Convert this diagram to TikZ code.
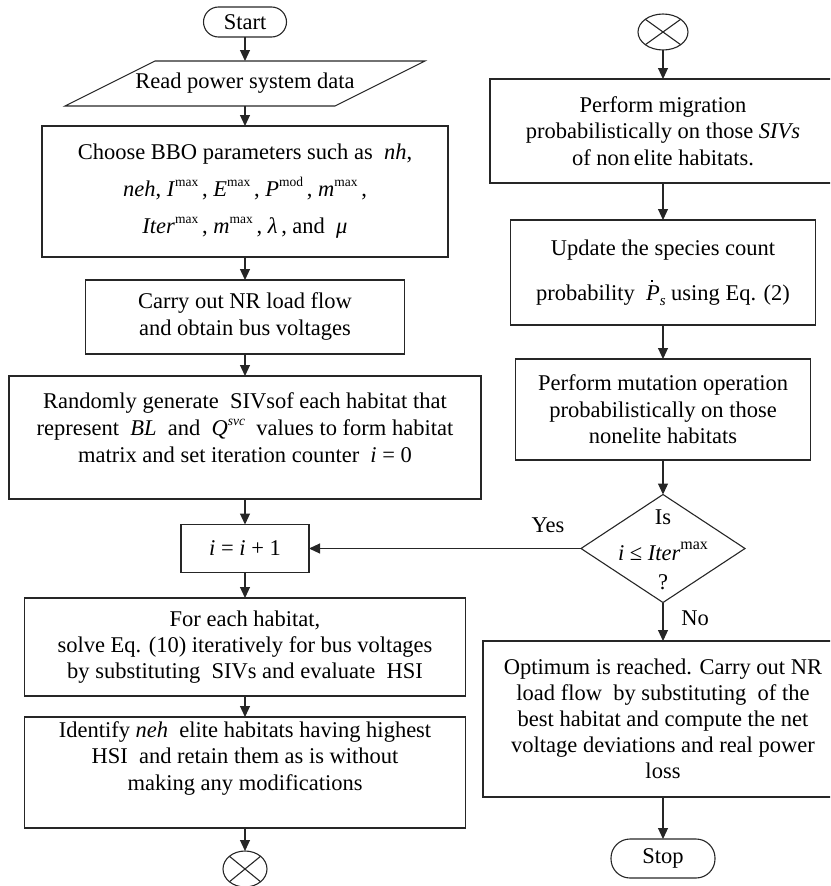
\documentclass[tikz,border=0pt]{standalone}
\usepackage{fontspec}
\setmainfont{Liberation Serif}
\usetikzlibrary{shapes.geometric,arrows.meta,calc}
\newcommand\hi[1]{\raisebox{10pt}{\fontsize{13.5}{13.5}\selectfont #1}}
\newcommand\hibig[1]{\raisebox{11pt}{\fontsize{16}{16}\selectfont #1}}
\newcommand\lo[1]{\raisebox{-5pt}{\fontsize{15}{15}\selectfont #1}}
\newcommand\Pdot{\textit{P}\llap{\raisebox{0.82em}{\rule{2pt}{2pt}}\hspace{0.3em}}}
\begin{document}
\begin{tikzpicture}[x=1pt,y=-1pt,
  every node/.style={font=\fontsize{22.5}{27}\selectfont, inner sep=0pt, outer sep=0pt, align=center},
  box/.style={draw=black!85, line width=1.1pt, rectangle},
  term/.style={draw=black!85, line width=1.1pt, rounded corners=15pt},
  conn/.style={draw=black!85, ellipse, line width=1.1pt, minimum width=44pt, minimum height=36pt},
  arr/.style={draw=black!85, -{Triangle[width=10pt,length=11pt]}, line width=1.1pt},
  plain/.style={draw=black!85, line width=1.1pt}]
\useasboundingbox (0,0) rectangle (830,886);
\clip (0,0) rectangle (830,886);

% left column
\node[term, minimum width=83pt, minimum height=30pt] (start) at (245,22) {Start};
\node[minimum width=270pt, minimum height=45pt] (read) at (245,83.5) {Read power system data};
\draw[plain] ($(read.south west)+(-45,0)$) -- ($(read.north west)+(45,0)$) -- ($(read.north east)+(45,0)$) -- ($(read.south east)+(-45,0)$) -- cycle;
\node[box, minimum width=406pt, minimum height=131pt, font=\fontsize{22.5}{37}\selectfont] (bbo) at (245,191.5)
  {Choose BBO parameters such as \ \textit{nh},\\ \textit{neh}, \textit{I}\hi{max}\,, \textit{E}\hi{max}\,, \textit{P}\hi{mod}\,, \textit{m}\hi{max}\,,\\ \textit{Iter}\hi{max}\,, \textit{m}\hi{max}\,, \textit{λ}\,, and \ \textit{μ}};
\node[box, minimum width=319pt, minimum height=74pt] (nr) at (245,317) {Carry out NR load flow\\ and obtain bus voltages};
\node[box, minimum width=472pt, minimum height=123pt, text depth=20pt] (rand) at (245,437.5)
  {Randomly generate \ SIVsof each habitat that\\ represent \ \textit{BL} \ and \ \textit{Q}\hi{\textit{svc}} \ values to form habitat\\ matrix and set iteration counter \ \textit{i} = 0};
\node[box, minimum width=128pt, minimum height=48pt] (inc) at (245,548.5) {\textit{i} = \textit{i} + 1};
\node[box, minimum width=441pt, minimum height=98pt, font=\fontsize{22.5}{26}\selectfont] (each) at (245,647)
  {For each habitat,\\ solve Eq. (10) iteratively for bus voltages\\ by substituting \ SIVs and evaluate \ HSI};
\node[box, minimum width=441pt, minimum height=111pt, text depth=33pt, font=\fontsize{22.5}{26.5}\selectfont] (ident) at (245,772.5)
  {Identify \textit{neh} \ elite habitats having highest\\ HSI \ and retain them as is without\\ making any modifications};
\node[conn] (c1) at (245,869) {};
\draw[plain] (c1.north west) -- (c1.south east) (c1.north east) -- (c1.south west);

% right column
\node[conn, minimum width=50pt] (c2) at (663,32) {};
\draw[plain] (c2.north west) -- (c2.south east) (c2.north east) -- (c2.south west);
\node[box, minimum width=346pt, minimum height=104pt, font=\fontsize{22.5}{26.5}\selectfont] (mig) at (663,131)
  {Perform migration\\ probabilistically on those \textit{SIVs}\\ of non\,elite habitats.};
\node[box, minimum width=305pt, minimum height=105pt] (upd) at (663,272.5)
  {Update the species count\\[18pt] probability \ \Pdot\lo{\textit{s}} using Eq. (2)};
\node[box, minimum width=295pt, minimum height=101pt, font=\fontsize{22.5}{26.5}\selectfont] (mut) at (663,409.5)
  {Perform mutation operation\\ probabilistically on those\\ nonelite habitats};
\node[draw=black!85, line width=1.1pt, diamond, minimum width=164pt, minimum height=108pt] (dia) at (663,548.5) {};
\node[font=\fontsize{22.5}{29}\selectfont] (diatxt) at (663,550) {Is\\[7pt] \textit{i} ≤ \textit{Iter}\hibig{max}\\ ?};
\node[box, minimum width=360pt, minimum height=156pt, font=\fontsize{22.5}{26}\selectfont] (opt) at (663,719)
  {Optimum is reached. Carry out NR\\ load flow \ by substituting \ of the\\ best habitat and compute the net\\ voltage deviations and real power\\ loss};
\node[term, rounded corners=19pt, minimum width=104pt, minimum height=39pt] (stop) at (663,858.5) {Stop};

\node (yes) at (548,525) {Yes};
\node (no) at (695,618) {No};

% connectors
\draw[arr] (start.south) -- (read.north);
\draw[arr] (read.south) -- (bbo.north);
\draw[arr] (bbo.south) -- (nr.north);
\draw[arr] (nr.south) -- (rand.north);
\draw[arr] (rand.south) -- (inc.north);
\draw[arr] (inc.south) -- (each.north);
\draw[arr] (each.south) -- (ident.north);
\draw[arr] (ident.south) -- (c1.north);
\draw[arr] (c2.south) -- (mig.north);
\draw[arr] (mig.south) -- (upd.north);
\draw[arr] (upd.south) -- (mut.north);
\draw[arr] (mut.south) -- (dia.north);
\draw[arr] (dia.west) -- (inc.east);
\draw[arr] (dia.south) -- (opt.north);
\draw[arr] (opt.south) -- (stop.north);
\end{tikzpicture}
\end{document}
